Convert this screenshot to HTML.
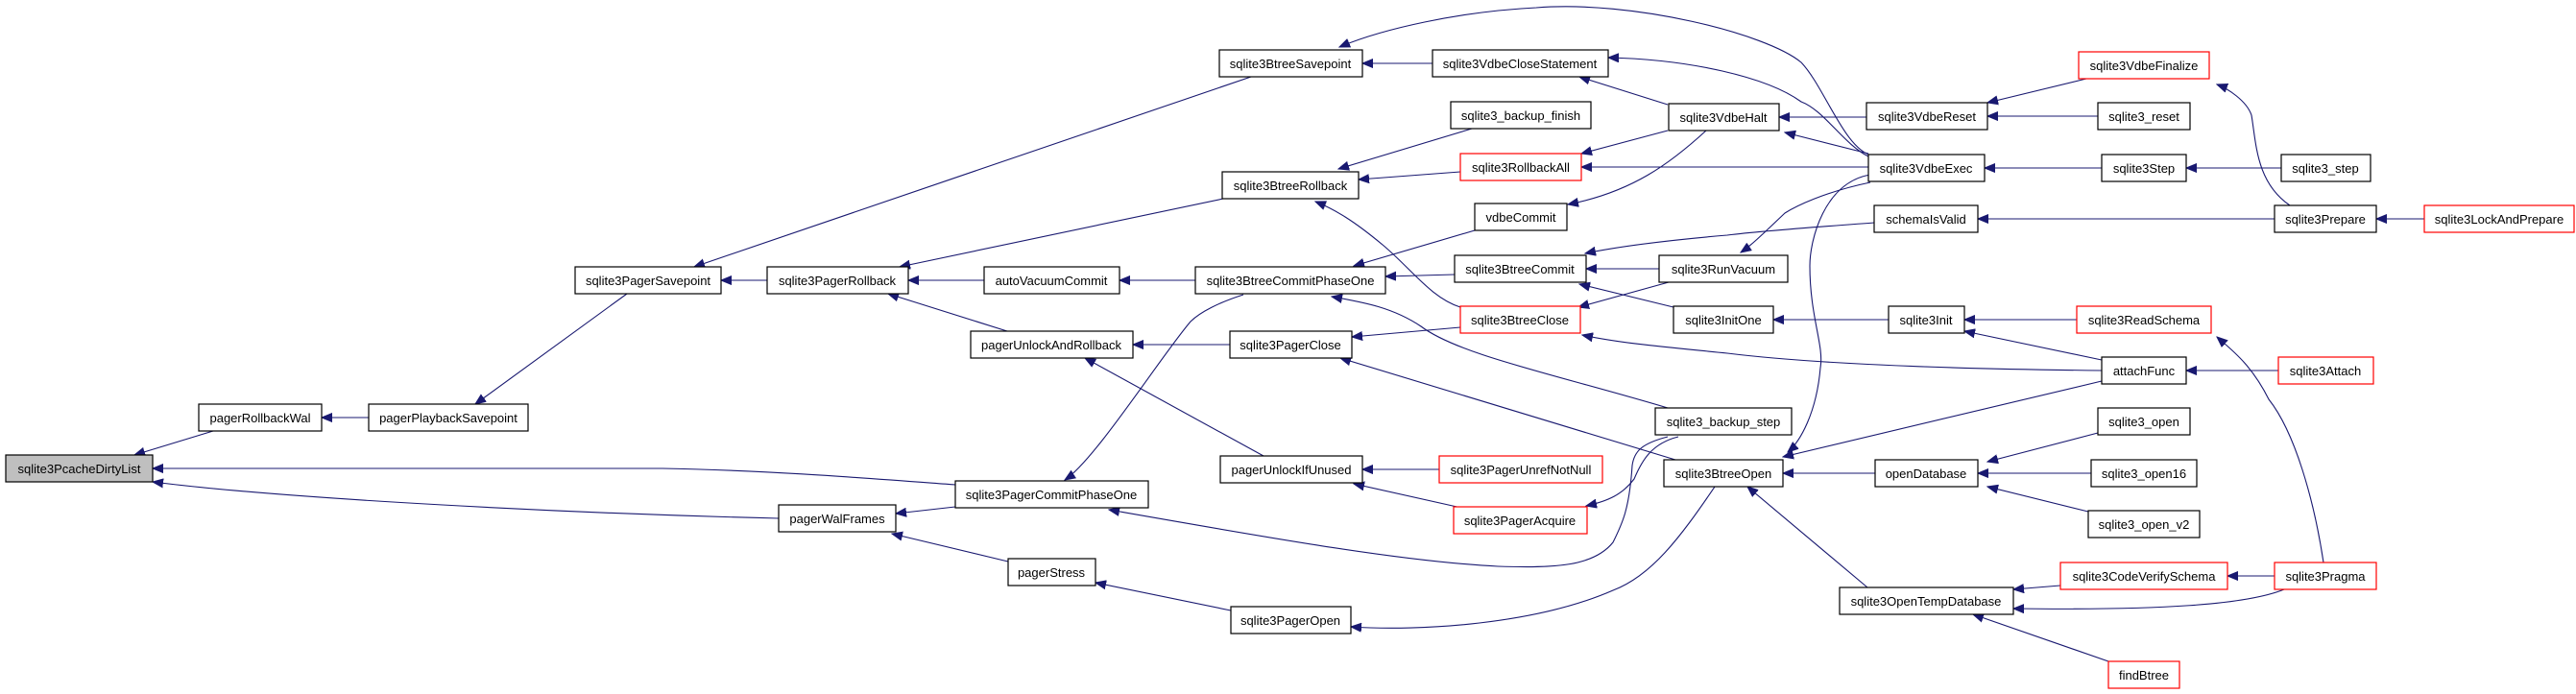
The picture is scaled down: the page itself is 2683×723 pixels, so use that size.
<!DOCTYPE html>
<html><head><meta charset="utf-8"><style>
html,body{margin:0;padding:0;background:#fff;}
svg{display:block;}
text{font-family:"Liberation Sans",Arial,sans-serif;font-size:13px;fill:#000;}
.n{fill:#fff;stroke:#000;stroke-width:1.2;}
.r{fill:#fff;stroke:#ff0000;stroke-width:1.2;}
.e{fill:none;stroke:#191970;stroke-width:1.1;}
</style></head><body>
<svg width="2683" height="723" viewBox="0 0 2683 723" xmlns="http://www.w3.org/2000/svg">
<defs><marker id="a" markerWidth="12" markerHeight="10" refX="11" refY="5" orient="auto" markerUnits="userSpaceOnUse"><path d="M0,0.5 L11,5 L0,9.5 z" fill="#191970" stroke="#191970"/></marker></defs>
<g class="e" marker-end="url(#a)">
<path d="M222,449 L140,474"/>
<path d="M995,505 C900,498 800,490 690,488 L159,488"/>
<path d="M811,540 C600,535 300,520 159,502"/>
<path d="M384,435 L335,435"/>
<path d="M653,306 L495,421"/>
<path d="M799,292 L751,292"/>
<path d="M1303,80 L723,278"/>
<path d="M1274,207 L937,278"/>
<path d="M1025,292 L946,292"/>
<path d="M1049,345 L925,306"/>
<path d="M1492,66 L1419,66"/>
<path d="M1950,162 C1922,157 1900,90 1876,65 C1840,35 1700,0 1600,8 C1520,12 1440,30 1395,49"/>
<path d="M1737,109 L1645,80"/>
<path d="M1946,163 C1920,150 1900,115 1876,106 C1840,80 1760,62 1675,60"/>
<path d="M1533,134 L1394,176"/>
<path d="M1521,179 L1415,187"/>
<path d="M1521,320 C1490,310 1470,280 1440,255 C1410,230 1390,218 1370,210"/>
<path d="M1737,136 L1647,160"/>
<path d="M1946,174 L1647,174"/>
<path d="M1777,136 C1740,170 1700,200 1633,213"/>
<path d="M1536,240 L1410,277"/>
<path d="M1515,286 L1443,288"/>
<path d="M1737,425 C1620,390 1520,370 1480,340 C1450,320 1420,315 1387,309"/>
<path d="M1295,307 C1270,315 1250,325 1240,335 C1210,370 1140,480 1109,500"/>
<path d="M1245,292 L1166,292"/>
<path d="M1728,280 L1652,280"/>
<path d="M1952,232 C1900,236 1840,240 1799,245 C1740,250 1690,256 1651,264"/>
<path d="M1743,320 L1645,296"/>
<path d="M1738,294 L1644,320"/>
<path d="M2189,386 C2000,384 1880,378 1799,368 C1740,362 1690,358 1648,349"/>
<path d="M1521,341 L1408,351"/>
<path d="M1281,359 L1180,359"/>
<path d="M1316,475 L1130,373"/>
<path d="M1745,479 L1396,373"/>
<path d="M1499,489 L1419,489"/>
<path d="M1522,529 L1410,504"/>
<path d="M1748,455 C1720,462 1710,480 1702,499 C1690,515 1675,522 1652,527"/>
<path d="M1737,455 C1710,462 1702,470 1700,485 C1697,530 1690,545 1680,565 C1660,590 1620,592 1560,590 C1460,585 1320,560 1155,531"/>
<path d="M995,528 L933,535"/>
<path d="M1050,585 L929,556"/>
<path d="M1282,636 L1141,607"/>
<path d="M1786,507 C1750,560 1720,600 1680,615 C1600,650 1480,658 1407,653"/>
<path d="M1944,122 L1853,122"/>
<path d="M1946,160 L1859,138"/>
<path d="M1948,190 C1900,200 1870,215 1859,222 C1840,240 1825,255 1813,263"/>
<path d="M1948,182 C1900,190 1885,250 1885,277 C1885,330 1900,360 1896,383 C1892,430 1875,460 1862,471"/>
<path d="M2189,397 L1857,476"/>
<path d="M2173,82 L2070,107"/>
<path d="M2185,121 L2070,121"/>
<path d="M2189,175 L2067,175"/>
<path d="M2376,175 L2277,175"/>
<path d="M2385,214 C2350,190 2350,150 2345,120 C2340,105 2320,92 2309,88"/>
<path d="M2369,228 L2060,228"/>
<path d="M2525,228 L2475,228"/>
<path d="M1967,333 L1847,333"/>
<path d="M2163,333 L2046,333"/>
<path d="M2189,375 L2046,345"/>
<path d="M2420,586 C2410,520 2390,450 2363,416 C2345,380 2325,365 2309,351"/>
<path d="M2373,386 L2277,386"/>
<path d="M1953,493 L1857,493"/>
<path d="M2185,451 L2070,481"/>
<path d="M2178,493 L2060,493"/>
<path d="M2175,533 L2070,507"/>
<path d="M1945,612 L1820,507"/>
<path d="M2146,610 L2097,614"/>
<path d="M2379,614 C2340,630 2250,636 2097,634"/>
<path d="M2369,600 L2320,600"/>
<path d="M2196,689 L2055,640"/>
</g>
<g>
<rect x="6" y="474" width="153" height="28" fill="#bfbfbf" stroke="#000" stroke-width="1.2"/><text x="82.5" y="493" text-anchor="middle">sqlite3PcacheDirtyList</text>
</g>
<g text-anchor="middle">
<rect class="n" x="207" y="421" width="128" height="28"/><text x="271" y="440" text-anchor="middle">pagerRollbackWal</text>
<rect class="n" x="384" y="421" width="166" height="28"/><text x="467" y="440" text-anchor="middle">pagerPlaybackSavepoint</text>
<rect class="n" x="599" y="278" width="152" height="28"/><text x="675" y="297" text-anchor="middle">sqlite3PagerSavepoint</text>
<rect class="n" x="799" y="278" width="147" height="28"/><text x="872" y="297" text-anchor="middle">sqlite3PagerRollback</text>
<rect class="n" x="811" y="526" width="122" height="28"/><text x="872" y="545" text-anchor="middle">pagerWalFrames</text>
<rect class="n" x="995" y="501" width="201" height="28"/><text x="1095" y="520" text-anchor="middle">sqlite3PagerCommitPhaseOne</text>
<rect class="n" x="1270" y="52" width="149" height="28"/><text x="1344" y="71" text-anchor="middle">sqlite3BtreeSavepoint</text>
<rect class="n" x="1492" y="52" width="183" height="28"/><text x="1583" y="71" text-anchor="middle">sqlite3VdbeCloseStatement</text>
<rect class="n" x="1511" y="106" width="146" height="28"/><text x="1584" y="125" text-anchor="middle">sqlite3_backup_finish</text>
<rect class="n" x="1273" y="179" width="142" height="28"/><text x="1344" y="198" text-anchor="middle">sqlite3BtreeRollback</text>
<rect class="r" x="1521" y="160" width="126" height="28"/><text x="1584" y="179" text-anchor="middle">sqlite3RollbackAll</text>
<rect class="n" x="1536" y="212" width="96" height="28"/><text x="1584" y="231" text-anchor="middle">vdbeCommit</text>
<rect class="n" x="1025" y="278" width="141" height="28"/><text x="1095" y="297" text-anchor="middle">autoVacuumCommit</text>
<rect class="n" x="1245" y="278" width="198" height="28"/><text x="1344" y="297" text-anchor="middle">sqlite3BtreeCommitPhaseOne</text>
<rect class="n" x="1515" y="266" width="137" height="28"/><text x="1583" y="285" text-anchor="middle">sqlite3BtreeCommit</text>
<rect class="r" x="1521" y="319" width="125" height="28"/><text x="1583" y="338" text-anchor="middle">sqlite3BtreeClose</text>
<rect class="n" x="1011" y="345" width="169" height="28"/><text x="1095" y="364" text-anchor="middle">pagerUnlockAndRollback</text>
<rect class="n" x="1281" y="345" width="127" height="28"/><text x="1344" y="364" text-anchor="middle">sqlite3PagerClose</text>
<rect class="n" x="1271" y="475" width="148" height="28"/><text x="1345" y="494" text-anchor="middle">pagerUnlockIfUnused</text>
<rect class="r" x="1499" y="475" width="170" height="28"/><text x="1584" y="494" text-anchor="middle">sqlite3PagerUnrefNotNull</text>
<rect class="r" x="1514" y="528" width="139" height="28"/><text x="1583" y="547" text-anchor="middle">sqlite3PagerAcquire</text>
<rect class="n" x="1050" y="582" width="91" height="28"/><text x="1095" y="601" text-anchor="middle">pagerStress</text>
<rect class="n" x="1282" y="632" width="125" height="28"/><text x="1344" y="651" text-anchor="middle">sqlite3PagerOpen</text>
<rect class="n" x="1738" y="108" width="115" height="28"/><text x="1795" y="127" text-anchor="middle">sqlite3VdbeHalt</text>
<rect class="n" x="1728" y="266" width="134" height="28"/><text x="1795" y="285" text-anchor="middle">sqlite3RunVacuum</text>
<rect class="n" x="1743" y="319" width="104" height="28"/><text x="1795" y="338" text-anchor="middle">sqlite3InitOne</text>
<rect class="n" x="1724" y="425" width="142" height="28"/><text x="1795" y="444" text-anchor="middle">sqlite3_backup_step</text>
<rect class="n" x="1733" y="479" width="124" height="28"/><text x="1795" y="498" text-anchor="middle">sqlite3BtreeOpen</text>
<rect class="n" x="1944" y="107" width="126" height="28"/><text x="2007" y="126" text-anchor="middle">sqlite3VdbeReset</text>
<rect class="n" x="1946" y="161" width="121" height="28"/><text x="2006" y="180" text-anchor="middle">sqlite3VdbeExec</text>
<rect class="n" x="1952" y="214" width="108" height="28"/><text x="2006" y="233" text-anchor="middle">schemaIsValid</text>
<rect class="n" x="1967" y="319" width="79" height="28"/><text x="2006" y="338" text-anchor="middle">sqlite3Init</text>
<rect class="n" x="1953" y="479" width="107" height="28"/><text x="2006" y="498" text-anchor="middle">openDatabase</text>
<rect class="n" x="1916" y="612" width="181" height="28"/><text x="2006" y="631" text-anchor="middle">sqlite3OpenTempDatabase</text>
<rect class="r" x="2165" y="54" width="136" height="28"/><text x="2233" y="73" text-anchor="middle">sqlite3VdbeFinalize</text>
<rect class="n" x="2185" y="107" width="96" height="28"/><text x="2233" y="126" text-anchor="middle">sqlite3_reset</text>
<rect class="n" x="2189" y="161" width="88" height="28"/><text x="2233" y="180" text-anchor="middle">sqlite3Step</text>
<rect class="r" x="2163" y="319" width="140" height="28"/><text x="2233" y="338" text-anchor="middle">sqlite3ReadSchema</text>
<rect class="n" x="2189" y="372" width="88" height="28"/><text x="2233" y="391" text-anchor="middle">attachFunc</text>
<rect class="n" x="2185" y="425" width="96" height="28"/><text x="2233" y="444" text-anchor="middle">sqlite3_open</text>
<rect class="n" x="2178" y="479" width="110" height="28"/><text x="2233" y="498" text-anchor="middle">sqlite3_open16</text>
<rect class="n" x="2175" y="532" width="116" height="28"/><text x="2233" y="551" text-anchor="middle">sqlite3_open_v2</text>
<rect class="r" x="2146" y="586" width="174" height="28"/><text x="2233" y="605" text-anchor="middle">sqlite3CodeVerifySchema</text>
<rect class="r" x="2196" y="689" width="74" height="28"/><text x="2233" y="708" text-anchor="middle">findBtree</text>
<rect class="n" x="2376" y="161" width="93" height="28"/><text x="2422" y="180" text-anchor="middle">sqlite3_step</text>
<rect class="n" x="2369" y="214" width="106" height="28"/><text x="2422" y="233" text-anchor="middle">sqlite3Prepare</text>
<rect class="r" x="2373" y="372" width="99" height="28"/><text x="2422" y="391" text-anchor="middle">sqlite3Attach</text>
<rect class="r" x="2369" y="586" width="106" height="28"/><text x="2422" y="605" text-anchor="middle">sqlite3Pragma</text>
<rect class="r" x="2525" y="214" width="156" height="28"/><text x="2603" y="233" text-anchor="middle">sqlite3LockAndPrepare</text>
</g>
</svg>
</body></html>
